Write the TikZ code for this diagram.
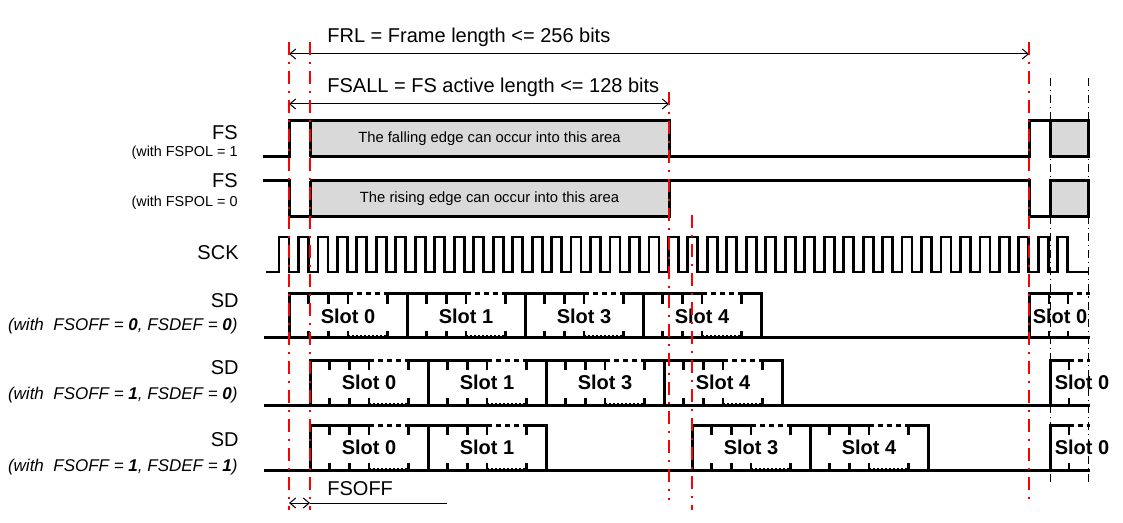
\documentclass[tikz,border=0pt]{standalone}
\usepackage{fontspec}
\setmainfont{Liberation Sans}
\usetikzlibrary{arrows.meta}
\definecolor{areagrey}{RGB}{217,217,217}
\tikzset{
  sig/.style={line width=1.5pt},
  clk/.style={line width=1.4pt},
  slotline/.style={line width=1.5pt},
  slotdash/.style={dash pattern=on 2.5pt off 2pt},
  slotdot/.style={line width=0.5pt, dash pattern=on 1pt off 1pt},
  slottick/.style={line width=1.2pt},
  redmark/.style={red, line width=0.9pt, dash pattern=on 6.5pt off 3.5pt on 1pt off 3.5pt},
  blkmark/.style={black, line width=0.4pt, dash pattern=on 4pt off 2pt on 0.6pt off 2pt},
  dim/.style={{Straight Barb[length=3pt,width=5pt]}-{Straight Barb[length=3pt,width=5pt]}, line width=0.5pt},
  toplbl/.style={inner sep=0pt, font=\fontsize{10}{12}\selectfont},
  lbl/.style={inner sep=0pt, anchor=base east, font=\fontsize{10}{12}\selectfont},
  sublbl/.style={inner sep=0pt, anchor=base east, font=\fontsize{7.2}{9}\selectfont},
  sdlbl/.style={inner sep=0pt, anchor=base east, font=\fontsize{8.5}{10}\selectfont\itshape},
  arealbl/.style={inner sep=0pt, font=\fontsize{7.4}{9}\selectfont},
  slotlbl/.style={inner sep=0pt, font=\fontsize{10}{12}\selectfont\bfseries},
}
\newcommand{\slotw}{118}
\newcommand{\tclk}{19.47}
% x, top, bottom, label, name
\newcommand{\sdslot}[5]{%
  \draw[slotline] (#1,#3) -- (#1,#2) -- ({#1+\slotw/2},#2);
  \draw[slotline, slotdash] ({#1+\slotw/2},#2) -- ({#1+\slotw*5/6},#2);
  \draw[slotline] ({#1+\slotw*5/6},#2) -- ({#1+\slotw},#2) -- ({#1+\slotw},#3);
  \draw[slotdot] ({#1+\slotw/2},{#3-2}) -- ({#1+\slotw*5/6},{#3-2});
  \foreach \t in {1,2,3,5}{
    \draw[slottick] ({#1+\t*\slotw/6},#2) -- ++(0,10);
    \draw[slottick] ({#1+\t*\slotw/6},#3) -- ++(0,-7);
  }
  \node[slotlbl] (#5) at ({#1+\slotw/2},{(#2+#3)/2}) {#4};
}

\begin{document}
\begin{tikzpicture}[x=0.5pt, y=-0.5pt]
  \useasboundingbox (0,0) rectangle (1123,523);

  % lengths
  \coordinate (frlL) at (289,54);
  \coordinate (frlR) at (1029,54);
  \coordinate (fsallL) at (289,104);
  \coordinate (fsallR) at (669,104);
  \coordinate (offL) at (289,503);
  \coordinate (offR) at (310,503);
  \coordinate (offE) at (447,503);
  \draw[dim] (frlL) -- (frlR);
  \draw[dim] (fsallL) -- (fsallR);
  \draw[dim] (offL) -- (offR);
  \draw[line width=0.5pt] (offR) -- (offE);
  \node[toplbl, anchor=base west] (frl) at (327,43) {FRL = Frame length <= 256 bits};
  \node[toplbl, anchor=base west] (fsall) at (327,93) {FSALL = FS active length <= 128 bits};
  \node[toplbl, anchor=base west] (fsoff) at (327,495) {FSOFF};

  % row labels
  \node[lbl] (fsone) at (238,140) {FS};
  \node[sublbl] (fsonepol) at (238,157) {(with FSPOL = 1};
  \node[lbl] (fszero) at (238,188) {FS};
  \node[sublbl] (fszeropol) at (238,207) {(with FSPOL = 0};
  \node[lbl] (sck) at (239,260) {SCK};
  \node[lbl] (sdone) at (239,308) {SD};
  \node[sdlbl] (sdonecfg) at (238,331) {(with\ \ FSOFF = \textbf{0}, FSDEF = \textbf{0})};
  \node[lbl] (sdtwo) at (239,374) {SD};
  \node[sdlbl] (sdtwocfg) at (238,399) {(with\ \ FSOFF = \textbf{1}, FSDEF = \textbf{0})};
  \node[lbl] (sdthree) at (239,446) {SD};
  \node[sdlbl] (sdthreecfg) at (238,471) {(with\ \ FSOFF = \textbf{1}, FSDEF = \textbf{1})};

  % FS, FSPOL = 1
  \fill[areagrey] (310,121) rectangle (669,157);
  \fill[areagrey] (1050,121) rectangle (1088,157);
  \draw[sig] (263,157) -- (289,157) -- (289,121) -- (310,121) -- (310,157);
  \draw[sig] (310,121) -- (669,121) -- (669,157);
  \draw[sig] (310,157) -- (1029,157) -- (1029,121) -- (1088,121) -- (1088,157);
  \draw[sig] (1050,121) -- (1050,157) -- (1090,157);
  \node[arealbl] (fallarea) at (489.5,139) {The falling edge can occur into this area};

  % FS, FSPOL = 0
  \fill[areagrey] (310,181) rectangle (669,217);
  \fill[areagrey] (1050,181) rectangle (1088,217);
  \draw[sig] (263,181) -- (289,181) -- (289,217) -- (310,217) -- (310,181);
  \draw[sig] (310,217) -- (669,217) -- (669,181);
  \draw[sig] (310,181) -- (1029,181) -- (1029,217) -- (1050,217) -- (1050,181) -- (1088,181) -- (1088,217);
  \draw[sig] (1050,217) -- (1090,217);
  \node[arealbl] (risearea) at (489.5,199) {The rising edge can occur into this area};

  % SCK
  \draw[clk] (266,272)
    \foreach \k in {0,...,40}{
      -- ({279+\k*\tclk},272) -- ({279+\k*\tclk},237) -- ({289+\k*\tclk},237) -- ({289+\k*\tclk},272)
    } -- (1088,272);

  % SD, FSOFF = 0, FSDEF = 0
  \draw[sig] (264,338) -- (1090,338);
  \sdslot{289}{294}{338}{Slot 0}{ra}
  \sdslot{407}{294}{338}{Slot 1}{rb}
  \sdslot{525}{294}{338}{Slot 3}{rc}
  \sdslot{643}{294}{338}{Slot 4}{rd}
  \draw[slotline] (1029,338) -- (1029,294) -- (1068,294);
  \draw[slotline, slotdash] (1068,294) -- (1090,294);
  \foreach \x in {1049,1068}{
    \draw[slottick] (\x,294) -- ++(0,10);
    \draw[slottick] (\x,338) -- ++(0,-7);
  }
  \node[slotlbl] (re) at (1060,316) {Slot 0};

  % SD, FSOFF = 1, FSDEF = 0
  \draw[sig] (264,405) -- (1090,405);
  \sdslot{310}{360}{405}{Slot 0}{sa}
  \sdslot{428}{360}{405}{Slot 1}{sb}
  \sdslot{546}{360}{405}{Slot 3}{sc}
  \sdslot{664}{360}{405}{Slot 4}{sd}

  % SD, FSOFF = 1, FSDEF = 1
  \draw[sig] (264,470) -- (1090,470);
  \sdslot{310}{425}{470}{Slot 0}{ta}
  \sdslot{428}{425}{470}{Slot 1}{tb}
  \sdslot{692}{425}{470}{Slot 3}{tc}
  \sdslot{810}{425}{470}{Slot 4}{td}

  % next frame, FSOFF = 1
  \foreach \top/\bot/\nm in {360/405/se, 425/470/te}{
    \draw[slotline] (1050,\bot) -- (1050,\top) -- (1069,\top);
    \draw[slotline, slotdash] (1069,\top) -- (1090,\top);
    \draw[slottick] (1069,\top) -- ++(0,10);
    \draw[slottick] (1069,\bot) -- ++(0,-7);
    \node[slotlbl] (\nm) at (1082,{(\top+\bot)/2}) {Slot 0};
  }

  % markers
  \draw[blkmark] (1050,78) -- (1050,485);
  \draw[blkmark] (1088,78) -- (1088,485);
  \draw[redmark] (289,42) -- (289,510);
  \draw[redmark] (310,42) -- (310,510);
  \draw[redmark] (669,92) -- (669,500);
  \draw[redmark] (692,215) -- (692,510);
  \draw[redmark] (1029,42) -- (1029,500);
\end{tikzpicture}
\end{document}
